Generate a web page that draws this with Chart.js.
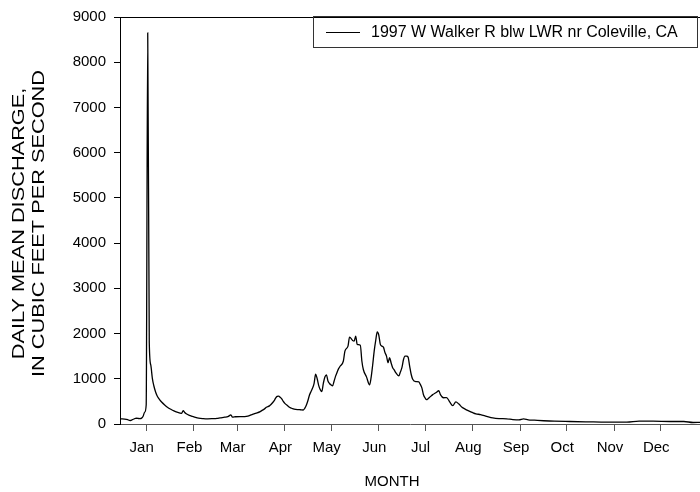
<!DOCTYPE html>
<html>
<head>
<meta charset="utf-8">
<script src="https://cdn.jsdelivr.net/npm/chart.js@4/dist/chart.umd.min.js"></script>
<style>
  html, body { margin: 0; padding: 0; background: #fff; overflow: hidden; }
  #wrap { width: 700px; height: 492px; }
</style>
</head>
<body>
<div id="wrap"><canvas id="c" width="700" height="492"></canvas></div>
<script>
// Daily mean discharge, W Walker R blw LWR nr Coleville, CA
// Day offsets counted from 1 Jan 1997 (0 = Jan 1).
const seriesLabel = '1997 W Walker R blw LWR nr Coleville, CA';
const days = [
  -17, -16, -14, -12, -11, -10, -9, -8, -7, -6, -5, -4, -3, -2, -1,
  0, 1, 2, 3, 4, 5, 6, 7, 8, 9, 10, 12, 14, 16, 18, 20, 22, 23, 24, 25, 26, 28, 30,
  32, 34, 37, 40, 43, 46, 48, 51, 53, 55, 56, 58,
  61, 64, 66, 68, 70, 72, 74, 75, 77, 78, 80, 81, 83, 84, 85, 86, 87, 88, 89,
  90, 92, 93, 95, 97, 99, 100, 102, 103, 104, 105, 106, 107, 108, 109, 110, 111, 112, 113, 114,
  115, 116, 117, 118, 119, 120, 121, 122, 123, 124, 125, 126, 128, 129, 131, 132, 134, 135, 136, 137, 139, 140, 141, 143, 145, 146, 147, 148, 149, 150,
  151, 152, 153, 154, 155, 156, 157, 158, 159, 160, 161, 162, 164, 165, 166, 167, 168, 169, 170, 171, 172, 173, 175, 177, 178, 179, 180,
  181, 182, 183, 184, 186, 188, 190, 191, 193, 195, 197, 199, 201, 203, 205, 207, 209, 212, 214, 217, 221, 225, 229, 234, 238, 242,
  245, 248, 252, 258, 265, 275, 286, 299, 312, 320, 329, 340, 349, 355, 359.5
];
const flow = [
  115, 114, 110, 95, 80, 77, 95, 110, 125, 127, 122, 120, 130, 170, 260,
  420, 8650, 1800, 1300, 1010, 840, 720, 630, 570, 525, 485, 420, 365, 325, 290, 262, 242, 236, 295, 255, 228, 192, 168,
  145, 128, 118, 114, 118, 125, 136, 150, 162, 200, 150, 160,
  164, 165, 175, 200, 225, 246, 275, 296, 340, 369, 400, 430, 510, 570, 610, 615, 590, 555, 500,
  456, 400, 370, 340, 322, 318, 315, 310, 350, 420, 520, 640, 720, 794, 900, 1100, 1000, 850, 760, 719,
  900, 1040, 1086, 950, 895, 865, 844, 950, 1064, 1150, 1230, 1283, 1393, 1612, 1722, 1919, 1846, 1831, 1941, 1759, 1743, 1393, 1200, 1042, 866, 1026, 1300, 1612, 1850, 2035,
  1963, 1760, 1722, 1700, 1580, 1502, 1355, 1465, 1350, 1246, 1195, 1136, 1064, 1150, 1246, 1420, 1502, 1500, 1480, 1283, 1100, 991, 939, 932, 870, 794, 647,
  580, 537, 560, 590, 650, 690, 735, 650, 580, 585, 490, 406, 490, 440, 370, 330, 296, 250, 225, 208, 171, 136, 120, 114, 99, 92,
  114, 92, 84, 72, 62, 55, 48, 40, 40, 62, 62, 55, 55, 33, 38
];

// Month boundaries (day offset of the 1st of each month) and their labels
const monthStarts = [0, 31, 59, 90, 120, 151, 181, 212, 243, 273, 304, 334];
const monthLabels = ['Jan', 'Feb', 'Mar', 'Apr', 'May', 'Jun', 'Jul', 'Aug', 'Sep', 'Oct', 'Nov', 'Dec'];
const yTicks = [0, 1000, 2000, 3000, 4000, 5000, 6000, 7000, 8000, 9000];
const yTitleLines = ['DAILY MEAN DISCHARGE,', 'IN CUBIC FEET PER SECOND'];
const xTitle = 'MONTH';

const FONT = 'Liberation Sans, Arial, Helvetica, sans-serif';

// Frame line along the top of the plot area, boxed legend and the axis captions
const framePlugin = {
  id: 'frame',
  afterDraw(chart) {
    const { ctx, chartArea } = chart;
    ctx.save();
    ctx.strokeStyle = '#000';
    ctx.lineWidth = 1;
    ctx.beginPath();
    ctx.moveTo(chartArea.left, Math.round(chartArea.top) + 0.5);
    ctx.lineTo(chartArea.right, Math.round(chartArea.top) + 0.5);
    ctx.stroke();

    // legend box
    const bx = 313.5, by = 16.5, bw = 384, bh = 31;
    ctx.strokeStyle = '#333';
    ctx.strokeRect(bx, by, bw, bh);
    ctx.strokeStyle = '#000';
    ctx.beginPath();
    ctx.moveTo(326, 32.5);
    ctx.lineTo(360, 32.5);
    ctx.stroke();
    ctx.fillStyle = '#000';
    ctx.font = '16px ' + FONT;
    ctx.textBaseline = 'middle';
    ctx.textAlign = 'left';
    ctx.fillText(chart.data.datasets[0].label, 371, 32.5);

    // x-axis caption
    ctx.font = '15px ' + FONT;
    ctx.textAlign = 'center';
    ctx.fillText(xTitle, 392, 482);

    // y-axis caption: two rotated lines, drawn elongated along the axis
    const cy = (chartArea.top + chartArea.bottom) / 2 + 3;
    ctx.font = '16px ' + FONT;
    yTitleLines.forEach((line, i) => {
      ctx.save();
      ctx.translate(20 + i * 20, cy);
      ctx.rotate(-Math.PI / 2);
      ctx.scale(1.36, 1);
      ctx.fillText(line, 0, 0);
      ctx.restore();
    });
    ctx.restore();
  }
};

new Chart(document.getElementById('c'), {
  type: 'line',
  data: {
    datasets: [{
      label: seriesLabel,
      data: days.map((d, i) => ({ x: d, y: flow[i] })),
      borderColor: '#000',
      borderWidth: 1.3,
      pointRadius: 0,
      cubicInterpolationMode: 'monotone',
      fill: false
    }]
  },
  options: {
    responsive: false,
    animation: false,
    devicePixelRatio: 1,
    layout: { padding: { top: 13, right: 0, bottom: 0, left: 0 } },
    plugins: { legend: { display: false }, tooltip: { enabled: false } },
    scales: {
      x: {
        type: 'linear',
        min: -17,
        max: 359.5,
        afterFit(scale) { scale.height = 68; },
        afterBuildTicks(scale) { scale.ticks = monthStarts.map(v => ({ value: v })); },
        ticks: {
          autoSkip: false,
          maxRotation: 0,
          padding: 8,
          labelOffset: -4.5,
          color: '#000',
          font: { family: FONT, size: 15 },
          callback(value) {
            const i = monthStarts.indexOf(value);
            return i >= 0 ? monthLabels[i] : '';
          }
        },
        grid: { display: true, drawOnChartArea: false, drawTicks: true, tickLength: 7, tickColor: '#555' },
        border: { display: true, color: '#555', width: 1 },
        title: { display: false }
      },
      y: {
        type: 'linear',
        min: 0,
        max: 9000,
        afterFit(scale) { scale.width = 120; },
        afterBuildTicks(scale) { scale.ticks = yTicks.map(v => ({ value: v })); },
        ticks: {
          autoSkip: false,
          padding: 8,
          color: '#000',
          font: { family: FONT, size: 15 },
          callback(value) { return String(value); }
        },
        grid: { display: true, drawOnChartArea: false, drawTicks: true, tickLength: 6, tickColor: '#000' },
        border: { display: true, color: '#000', width: 1 },
        title: { display: false }
      }
    }
  },
  plugins: [framePlugin]
});
</script>
</body>
</html>
